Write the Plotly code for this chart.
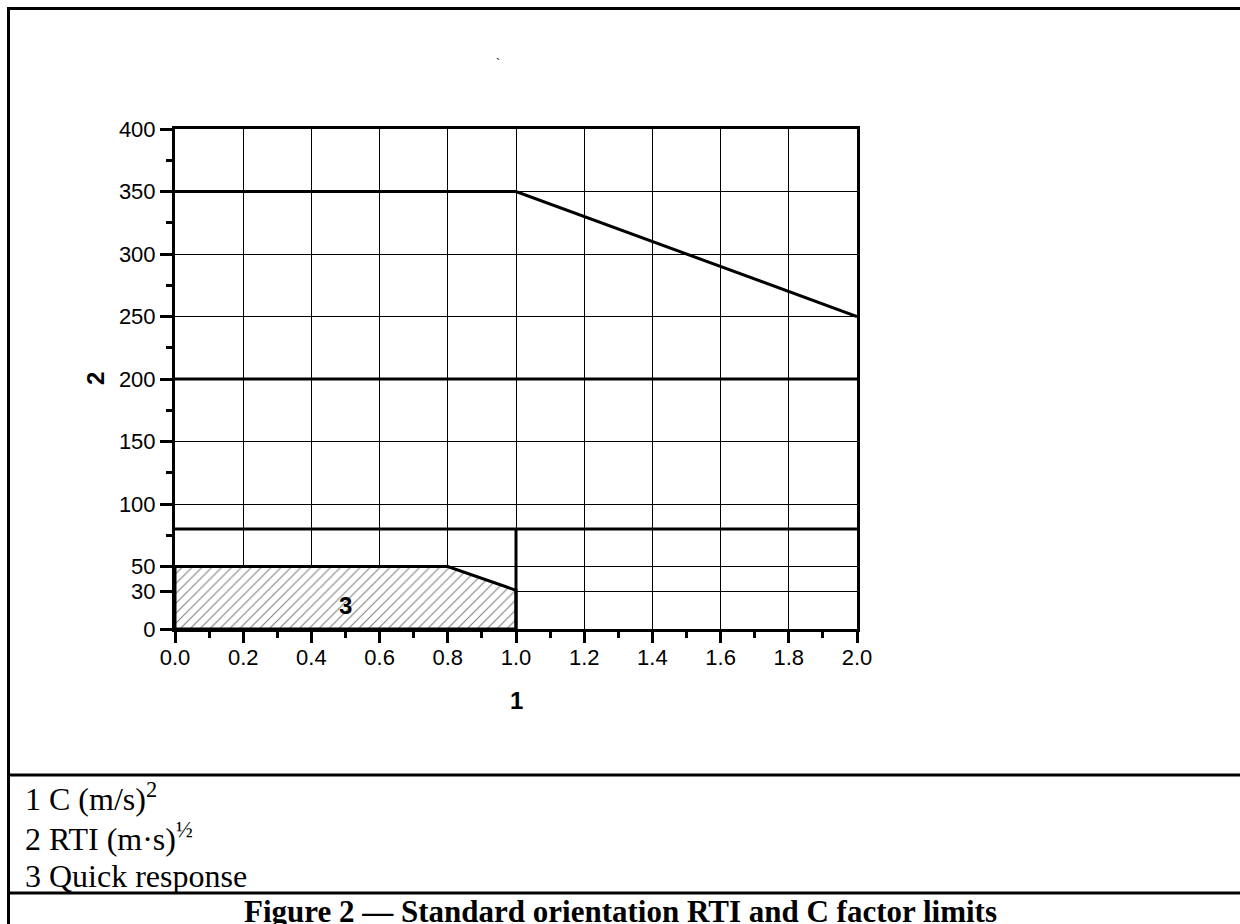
import plotly.graph_objects as go

# RTI / C factor limit lines
upper_c = [0.0, 1.0, 2.0]
upper_rti = [350, 350, 250]
mid_c = [0.0, 2.0]
mid_rti = [200, 200]
low_c = [0.0, 2.0]
low_rti = [80, 80]
split_c = [1.0, 1.0]
split_rti = [0, 80]

# Quick response zone (hatched)
quick_c = [0.0, 0.8, 1.0, 1.0, 0.0, 0.0]
quick_rti = [50, 50, 31, 0, 0, 50]

# Axis ticks
x_ticks = [0.0, 0.2, 0.4, 0.6, 0.8, 1.0, 1.2, 1.4, 1.6, 1.8, 2.0]
x_minor = [0.1, 0.3, 0.5, 0.7, 0.9, 1.1, 1.3, 1.5, 1.7, 1.9]
y_ticks = [0, 30, 50, 100, 150, 200, 250, 300, 350, 400]
y_minor = [75, 125, 175, 225, 275, 325, 375]

legend_lines = [
    "1 C (m/s)<sup>2</sup>",
    "2 RTI (m·s)<sup>½</sup>",
    "3 Quick response",
]
caption = "<b>Figure 2 — Standard orientation RTI and C factor limits</b>"

W, H = 1240, 924
L, R, T, B = 175, 857, 129, 629


def px(x):
    return (x - L) / (R - L)


def py(y):
    return (B - y) / (B - T)


fig = go.Figure()

fig.add_trace(go.Scatter(
    x=quick_c, y=quick_rti, mode="lines", fill="toself",
    fillcolor="white",
    fillpattern=dict(shape="/", fgcolor="black", bgcolor="white", size=7, solidity=0.15),
    line=dict(color="black", width=3), hoverinfo="skip",
))
for xs, ys in [(upper_c, upper_rti), (mid_c, mid_rti), (low_c, low_rti), (split_c, split_rti)]:
    fig.add_trace(go.Scatter(x=xs, y=ys, mode="lines",
                             line=dict(color="black", width=3), hoverinfo="skip"))

sans = "Arial, Liberation Sans, sans-serif"
serif = "Liberation Serif, Times New Roman, serif"
axis_font = dict(family=sans, size=22, color="black")

fig.update_xaxes(
    range=[0, 2], tickvals=x_ticks, tickformat=".1f",
    showline=True, linewidth=3, linecolor="black", mirror=True,
    ticks="outside", ticklen=11, tickwidth=3, tickcolor="black",
    showgrid=True, gridcolor="black", gridwidth=1, zeroline=False,
    tickfont=axis_font, ticklabelstandoff=-4,
    minor=dict(tickvals=x_minor, ticks="outside", ticklen=6, tickwidth=3,
               tickcolor="black", showgrid=False),
)
fig.update_yaxes(
    range=[0, 400], tickvals=y_ticks,
    showline=True, linewidth=3, linecolor="black", mirror=True,
    ticks="outside", ticklen=12, tickwidth=3, tickcolor="black",
    showgrid=True, gridcolor="black", gridwidth=1, zeroline=False,
    tickfont=axis_font,
    minor=dict(tickvals=y_minor, ticks="outside", ticklen=6, tickwidth=3,
               tickcolor="black", showgrid=False),
)

black = "black"
annotations = [
    dict(text="<b>2</b>", x=px(95), y=py(379), xref="paper", yref="paper",
         xanchor="center", yanchor="middle", textangle=-90, showarrow=False,
         font=dict(family=sans, size=24, color=black)),
    dict(text="<b>1</b>", x=px(516), y=py(700), xref="paper", yref="paper",
         xanchor="center", yanchor="middle", showarrow=False,
         font=dict(family=sans, size=24, color=black)),
    dict(text="<b>3</b>", x=0.5, y=19, xref="x", yref="y",
         xanchor="center", yanchor="middle", showarrow=False,
         font=dict(family=sans, size=24, color=black)),
    dict(text="`", x=px(498), y=py(64), xref="paper", yref="paper",
         xanchor="center", yanchor="middle", showarrow=False,
         font=dict(family=sans, size=12, color=black)),
    dict(text=caption, x=px(620), y=py(912), xref="paper", yref="paper",
         showarrow=False, xanchor="center", yanchor="middle",
         font=dict(family=serif, size=31, color=black)),
]
for i, t in enumerate(legend_lines):
    annotations.append(dict(
        text=t, x=px(23), y=py(797 + 39.5 * i), xref="paper", yref="paper",
        xanchor="left", yanchor="middle", showarrow=False,
        font=dict(family=serif, size=32, color=black),
    ))

frame = dict(type="line", xref="paper", yref="paper", line=dict(color="black", width=3))
shapes = [
    dict(frame, x0=px(7), x1=px(1245), y0=py(8.5), y1=py(8.5)),
    dict(frame, x0=px(8.5), x1=px(8.5), y0=py(7), y1=py(930)),
    dict(frame, x0=px(7), x1=px(1245), y0=py(775), y1=py(775)),
    dict(frame, x0=px(7), x1=px(1245), y0=py(893), y1=py(893)),
]

fig.update_layout(
    width=W, height=H,
    margin=dict(l=L, r=W - R, t=T, b=H - B),
    paper_bgcolor="white", plot_bgcolor="white",
    font=dict(color="black"),
    showlegend=False,
    annotations=annotations,
    shapes=shapes,
)

fig.write_html("out.html")
